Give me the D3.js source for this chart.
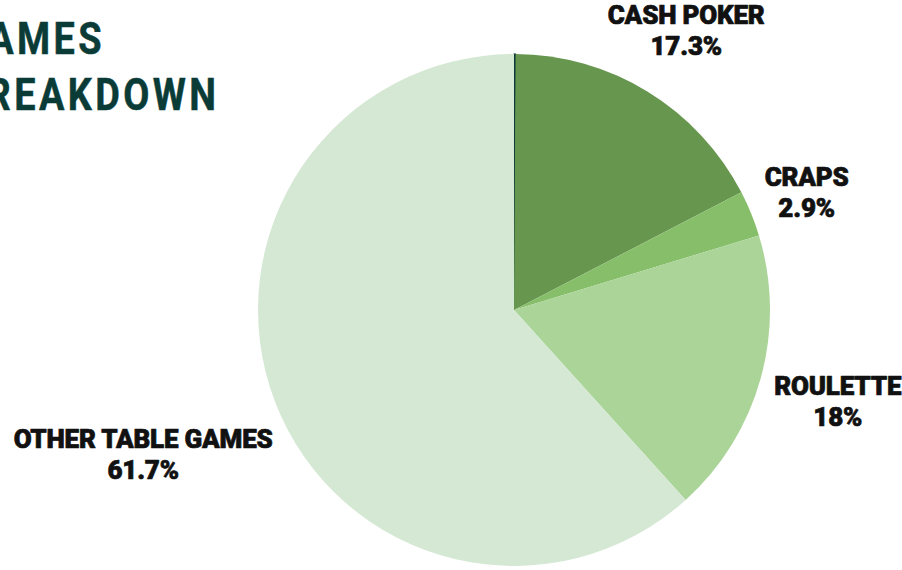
<!DOCTYPE html>
<html><head><meta charset="utf-8">
<script src="https://cdn.jsdelivr.net/npm/d3@7"></script>
<style>
html,body{margin:0;padding:0;background:#fff;overflow:hidden}
svg{display:block}
</style></head>
<body><svg id="chart" width="902" height="570"></svg>
<script>
const categories = ["", "CASH POKER", "CRAPS", "ROULETTE", "OTHER TABLE GAMES"];
const values = [0.1, 17.3, 2.9, 18, 61.7];
const valueLabels = ["", "17.3%", "2.9%", "18%", "61.7%"];
const colors = ["#0d3b3a", "#67964f", "#86be6a", "#aad498", "#d5e8d4"];
const titleLines = ["GAMES", "BREAKDOWN"];

const W = 902, H = 570;
const svg = d3.select("#chart");
const cx = 514, cy = 310, R = 256;

const pie = d3.pie().sort(null).value(d => d)(values);
const arc = d3.arc().innerRadius(0).outerRadius(R);

const g = svg.append("g").attr("transform", `translate(${cx},${cy})`);
g.selectAll("path").data(pie).join("path")
  .attr("d", arc)
  .attr("fill", (d, i) => colors[i])
  .attr("stroke", (d, i) => i === 0 ? colors[0] : "none")
  .attr("stroke-width", (d, i) => i === 0 ? 1.2 : 0);

// labels
const FS = 26;
pie.forEach((d, i) => {
  if (!categories[i]) return;
  const lg = g.append("g");
  [categories[i], valueLabels[i]].forEach((t, k) => {
    lg.append("text").text(t)
      .attr("text-anchor", "middle").attr("y", k === 0 ? -4 : 27)
      .attr("font-family", "Roboto").attr("font-weight", 900).attr("font-size", FS)
      .attr("letter-spacing", -0.2)
      .attr("fill", "#111").attr("stroke", "#111").attr("stroke-width", 0.7)
      .attr("stroke-linejoin", "round");
  });
  const bb = lg.node().getBBox();
  const hw = bb.width / 2, hh = 24;
  const a = (d.startAngle + d.endAngle) / 2;
  const s = Math.sin(a), c = Math.cos(a);
  const dist = R + 12 + hw * Math.abs(s) + hh * Math.abs(c);
  const x = s * dist, y = -c * dist;
  lg.attr("transform", `translate(${x},${y - 1})`);
});

// title
const tg = svg.append("g").attr("transform", "translate(-41,0) scale(0.86,1)");
titleLines.forEach((t, i) => {
  tg.append("text").text(t)
    .attr("x", 0).attr("y", 54 + i * 56)
    .attr("font-family", "Roboto").attr("font-weight", 700).attr("font-size", 44)
    .attr("letter-spacing", 4)
    .attr("fill", "#0b3b37").attr("stroke", "#0b3b37").attr("stroke-width", 0.5);
});
</script></body></html>
